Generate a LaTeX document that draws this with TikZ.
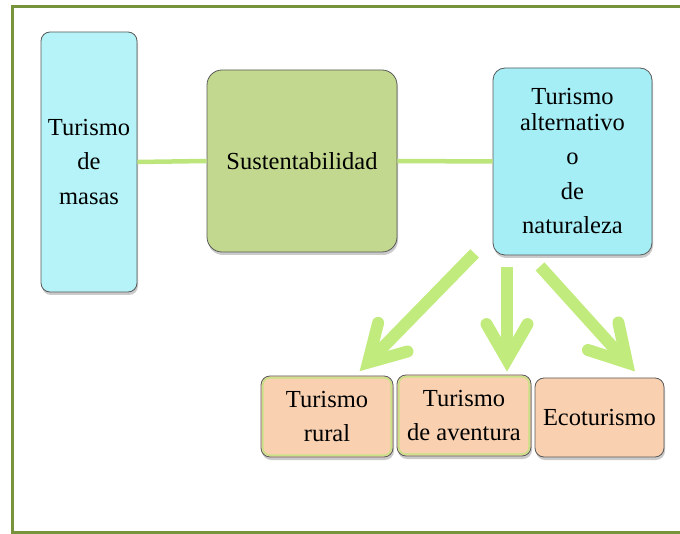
\documentclass[tikz,border=0pt]{standalone}
\usepackage{fontspec}
\setmainfont{Liberation Serif}
\usetikzlibrary{shadows,calc}
\definecolor{framecol}{HTML}{77933C}
\definecolor{cyanA}{HTML}{B5F3F8}
\definecolor{cyanB}{HTML}{A6EEF5}
\definecolor{greenbox}{HTML}{C3D88F}
\definecolor{peach}{HTML}{F9D1B1}
\definecolor{linkcol}{HTML}{BCE57C}
\definecolor{arrowcol}{HTML}{C2EB7E}
\begin{document}
\begin{tikzpicture}[x=1pt,y=-1pt,
  box/.style={draw=black!65, line width=0.8pt, rounded corners=9pt,
    drop shadow={shadow xshift=1pt,shadow yshift=-3pt,opacity=0.35,fill=black!60},
    align=center, inner sep=0pt, font=\fontsize{24.5}{34.5}\selectfont},
  glow/.style={draw=linkcol, line width=1.6pt, rounded corners=7pt, opacity=0.8},
  linkline/.style={draw=linkcol, line width=4.5pt},
  shaft/.style={draw=arrowcol, line width=12pt},
  barb/.style={draw=arrowcol, line width=12pt, line cap=round, line join=miter}
]
\useasboundingbox (0,0) rectangle (680,534);
\draw[framecol, line width=3pt] (682,7) -- (12,7) -- (12,532) -- (682,532);

\node[box, fill=cyanA, minimum width=96pt, minimum height=260pt] (masas) at (89,162)
  {Turismo\\de\\masas};
\node[box, fill=greenbox, rounded corners=15pt, minimum width=190pt, minimum height=182pt] (sust) at (302,161)
  {Sustentabilidad};
\node[box, fill=cyanB, rounded corners=12pt, minimum width=159pt, minimum height=187pt] (alt) at (572.5,161.5)
  {Turismo\\[-9pt]alternativo\\o\\de\\naturaleza};
\node[box, fill=peach, minimum width=132pt, minimum height=81pt] (rural) at (327,416.5)
  {Turismo\\rural};
\node[box, fill=peach, minimum width=134pt, minimum height=81pt] (avent) at (464,415.5)
  {Turismo\\de aventura};
\node[box, fill=peach, minimum width=129pt, minimum height=79pt] (eco) at (599.5,417.5)
  {Ecoturismo};

\draw[glow] ($(rural.south west)+(2.2,-2.2)$) rectangle ($(rural.north east)+(-2.2,2.2)$);
\draw[glow] ($(avent.south west)+(2.2,-2.2)$) rectangle ($(avent.north east)+(-2.2,2.2)$);

\draw[linkline] (masas.east) -- (sust.west);
\draw[linkline] (sust.east) -- (alt.west);

\coordinate (s1) at ($(alt.south west)+(-18,-2)$);
\coordinate (t1) at ($(rural.north)+(41,-13)$);
\coordinate (s2) at ($(alt.south)+(-65.5,12)$);
\coordinate (t2) at ($(avent.north)+(43,-15)$);
\coordinate (s3) at ($(alt.south)+(-32.5,11)$);
\coordinate (t3) at ($(eco.north)+(27.5,-15)$);

\foreach \s/\t in {s1/t1,s2/t2,s3/t3}{
  \draw[shaft] (\s) -- (\t);
  \draw[barb] ($(\t)!41pt!30:(\s)$) -- (\t) -- ($(\t)!41pt!-30:(\s)$);
}
\end{tikzpicture}
\end{document}
